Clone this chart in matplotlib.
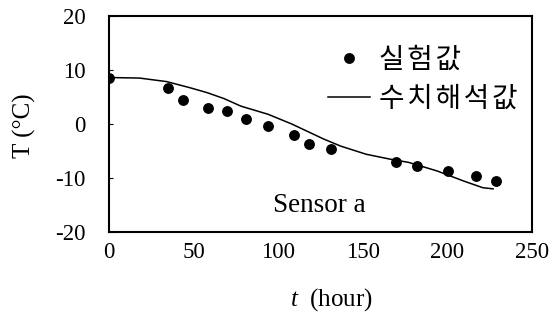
import matplotlib
matplotlib.use("Agg")
import matplotlib.pyplot as plt

plt.rcParams['font.family'] = ['Liberation Serif', 'Noto Sans CJK KR']
plt.rcParams['axes.unicode_minus'] = False
plt.rcParams['mathtext.fontset'] = 'custom'
plt.rcParams['mathtext.it'] = 'Liberation Serif:italic'
plt.rcParams['mathtext.rm'] = 'Liberation Serif'

# measured data (실험값)
t_meas = [0, 34.7, 44, 58.8, 70, 80.7, 94, 109.5, 118.3, 131.5, 169.8, 182, 200.4, 217, 229]
T_meas = [8.5, 6.7, 4.4, 2.9, 2.35, 1.0, -0.4, -2.0, -3.7, -4.7, -7.0, -7.8, -8.7, -9.6, -10.6]

# numerical analysis (수치해석값)
t_num = [0, 18, 34, 48, 58, 68, 78, 94, 108, 127, 137, 152, 166, 177, 194, 210, 221, 227]
T_num = [8.6, 8.5, 7.85, 6.7, 5.8, 4.7, 3.3, 1.8, 0.0, -2.8, -4.1, -5.6, -6.5, -7.1, -8.7, -10.6, -11.8, -12.0]

xticks = [0, 50, 100, 150, 200, 250]
yticks = [-20, -10, 0, 10, 20]
legend_labels = ['실험값', '수치해석값']

fig = plt.figure(figsize=(5.49, 3.25), dpi=100)
ax = fig.add_axes([0.1985, 0.286, 0.7705, 0.665])

sp = '\u200a'
ax.plot(t_meas, T_meas, 'o', color='black', markersize=6.8, linestyle='none',
        label=sp.join(legend_labels[0]), zorder=3)
ax.plot(t_num, T_num, '-', color='black', linewidth=1.1, label=sp.join(legend_labels[1]))

ax.set_xlim(0, 250)
ax.set_ylim(-20, 20)
ax.set_xticks(xticks)
ax.set_yticks(yticks)
ax.tick_params(axis='both', direction='in', length=3, width=0.8, labelsize=16.5)
ax.tick_params(axis='y', pad=17)
ax.tick_params(axis='x', length=0, pad=7)
for s in ax.spines.values():
    s.set_linewidth(1.5)
    s.set_color('black')

ax.set_xlabel(r'$t$  (hour)', fontsize=18)
ax.xaxis.set_label_coords(0.525, -0.25)
ax.set_ylabel('T (°C)', fontsize=18)
ax.yaxis.set_label_coords(-0.172, 0.49)

ax.text(97, -15.05, 'Sensor a', fontsize=19.5, va='center', ha='left')

leg = ax.legend(loc='upper left', bbox_to_anchor=(0.518, 0.867), frameon=False,
                prop={'family': ['Noto Sans CJK KR', 'DejaVu Sans'], 'size': 20},
                handlelength=1.5, handletextpad=0.32, labelspacing=0.33,
                borderpad=0, borderaxespad=0, markerfirst=True)

fig.savefig('out.png', dpi=100)
